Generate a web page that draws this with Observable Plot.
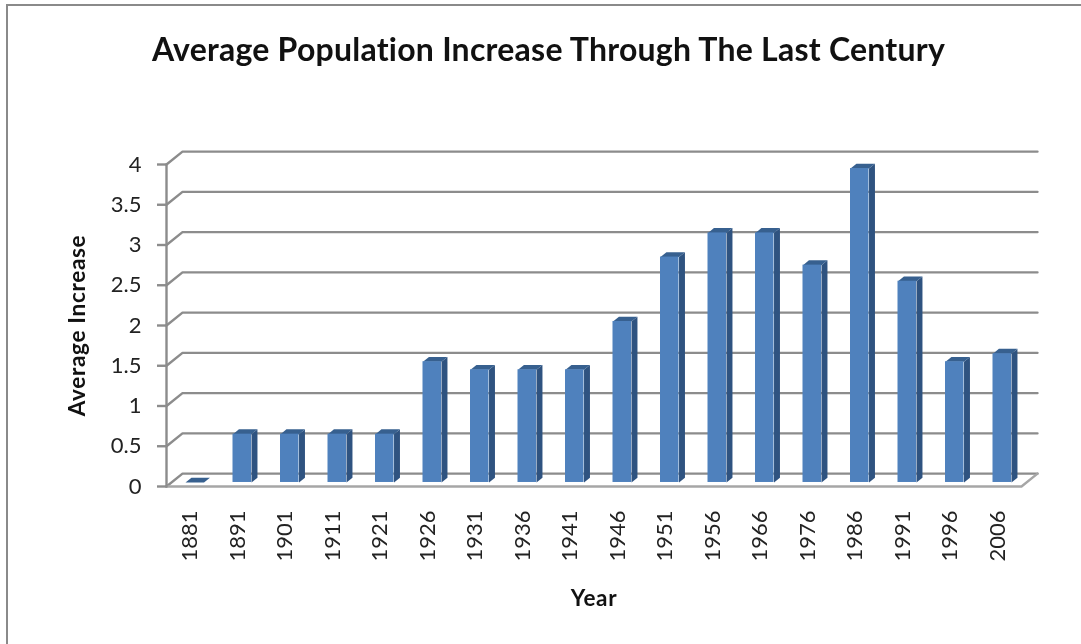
<!DOCTYPE html>
<html>
<head>
<meta charset="utf-8">
<script src="https://cdn.jsdelivr.net/npm/d3@7"></script>
<script src="https://cdn.jsdelivr.net/npm/@observablehq/plot@0.6"></script>
<style>
  html, body { margin: 0; padding: 0; background: #fff; overflow: hidden; }
  #page { position: relative; width: 1081px; height: 644px; filter: blur(0.5px); }
  #frame { position: absolute; left: 6px; top: 4px; width: 1081px; height: 650px; border: 2px solid #8a8a8a; box-sizing: border-box; }
  #title { position: absolute; left: 0; top: 29px; width: 1097px; text-align: center; font: 700 32px Lato, sans-serif; font-variant-ligatures: none; letter-spacing: 0.24px; color: #111; white-space: nowrap; }
  #chart { position: absolute; left: 0; top: 0; }
  #chart g[aria-label="text"] { letter-spacing: 0.7px; }
</style>
</head>
<body>
<div id="page">
  <div id="frame"></div>
  <div id="title">Average Population Increase Through The Last Century</div>
  <div id="chart"></div>
</div>
<script>
const categories = ["1881","1891","1901","1911","1921","1926","1931","1936","1941","1946","1951","1956","1966","1976","1986","1991","1996","2006"];
const values = [0,0.6,0.6,0.6,0.6,1.5,1.4,1.4,1.4,2,2.8,3.1,3.1,2.7,3.9,2.5,1.5,1.6];
const yTicks = [0,0.5,1,1.5,2,2.5,3,3.5,4];

// pseudo-3D depth, in data units
const wallDX = 0.3366, wallDY = 0.16;
const barLeft = 0.4, barWidth = 0.39, barDX = 0.125, barDY = 0.06, barBase = 0.05;
const nCat = categories.length;

const bars = values.map((v, i) => ({
  i, v,
  x1: i + barLeft,
  x2: i + barLeft + barWidth,
  y1: barBase,
  y2: barBase + v
}));
const sidePts = bars.flatMap(b => [
  {z: b.i, x: b.x2, y: b.y1},
  {z: b.i, x: b.x2 + barDX, y: b.y1 + barDY},
  {z: b.i, x: b.x2 + barDX, y: b.y2 + barDY},
  {z: b.i, x: b.x2, y: b.y2}
]);
const topPts = bars.flatMap(b => [
  {z: b.i, x: b.x1, y: b.y2},
  {z: b.i, x: b.x1 + barDX, y: b.y2 + barDY},
  {z: b.i, x: b.x2 + barDX, y: b.y2 + barDY},
  {z: b.i, x: b.x2, y: b.y2}
]);
const gridPts = yTicks.flatMap(t => [
  {z: t, x: 0, y: t},
  {z: t, x: wallDX, y: t + wallDY},
  {z: t, x: nCat + wallDX, y: t + wallDY}
]);
const floorEdge = [
  {x: 0, y: 0},
  {x: nCat, y: 0},
  {x: nCat + wallDX, y: wallDY}
];
const wallLine = [{x: 0, y: 0}, {x: 0, y: 4}];

const GRID = "#8c8c8c";
const plot = Plot.plot({
  width: 1081,
  height: 644,
  marginLeft: 166,
  marginRight: 60,
  marginTop: 164,
  marginBottom: 158,
  style: {fontFamily: "Lato, sans-serif", fontSize: "22px", color: "#222", background: "transparent", overflow: "visible"},
  x: {domain: [0, nCat]},
  y: {domain: [0, 4]},
  marks: [
    Plot.line(gridPts, {x: "x", y: "y", z: "z", stroke: GRID, strokeWidth: 2.4}),
    Plot.line(floorEdge, {x: "x", y: "y", stroke: "#a6a6a6", strokeWidth: 2.4}),
    Plot.line(wallLine, {x: "x", y: "y", stroke: GRID, strokeWidth: 2.4}),
    Plot.line(sidePts, {x: "x", y: "y", z: "z", fill: "#2f5380", stroke: "none"}),
    Plot.line(topPts, {x: "x", y: "y", z: "z", fill: "#37608f", stroke: "none"}),
    Plot.rect(bars, {x1: "x1", x2: "x2", y1: "y1", y2: "y2", fill: "#4f81bd"}),
    Plot.axisY({ticks: yTicks, tickFormat: d => String(d), tickSize: 9, tickPadding: 16, stroke: GRID, strokeWidth: 2.4, label: null, fontSize: 22}),
    Plot.axisX({ticks: categories.map((c, i) => i + 0.5), tickFormat: d => categories[Math.floor(d)], tickRotate: -90, tickSize: 0, tickPadding: 24, label: null, fontSize: 22}),
    Plot.text(["Average Increase"], {frameAnchor: "left", textAnchor: "middle", rotate: -90, dx: -89, fontWeight: 700, fontSize: 22.5, fill: "#111"}),
    Plot.text(["Year"], {frameAnchor: "bottom", dy: 119, fontWeight: 700, fontSize: 22.5, fill: "#111"}),
  ]
});
document.getElementById("chart").appendChild(plot);
</script>
</body>
</html>
